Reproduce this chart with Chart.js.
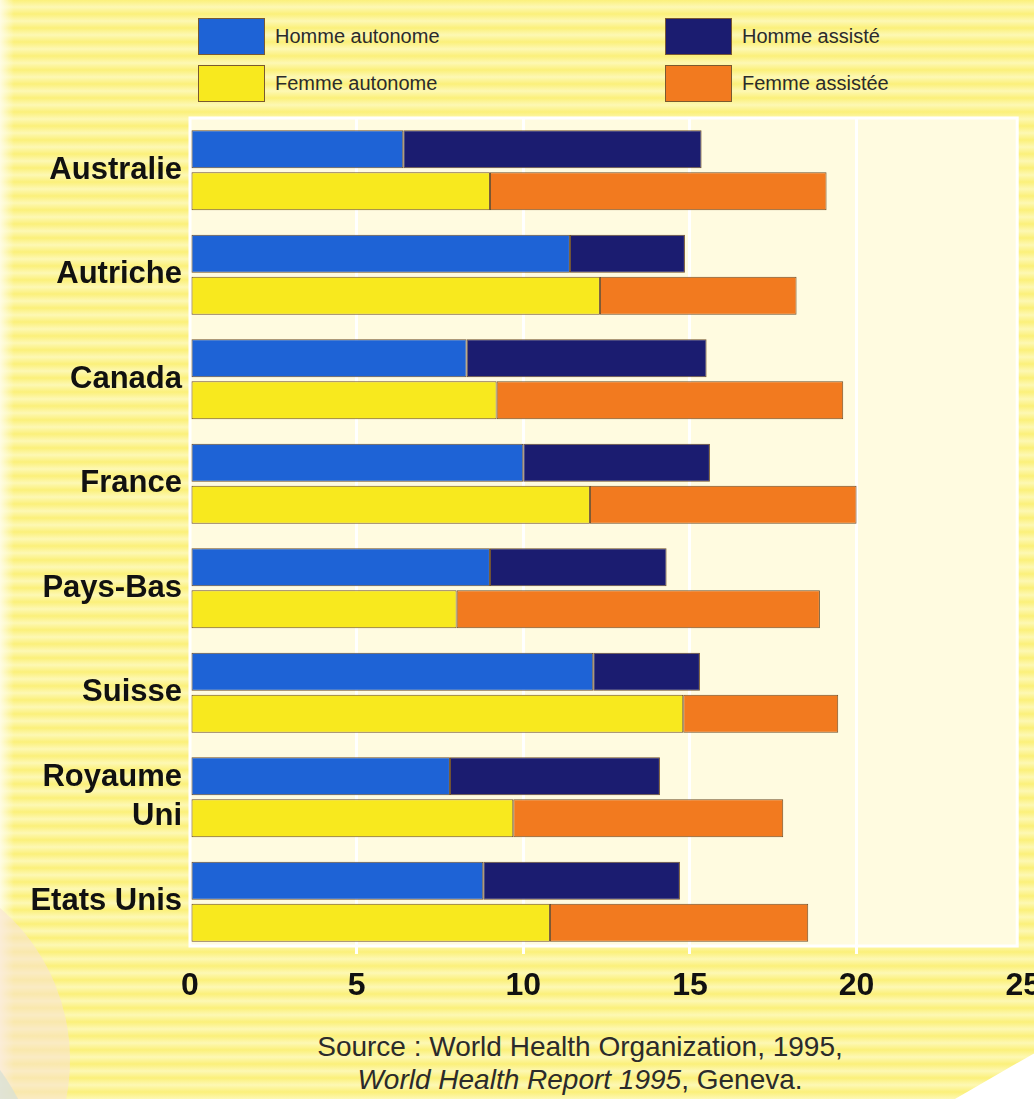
<!DOCTYPE html>
<html>
<head>
<meta charset="utf-8">
<script src="https://cdn.jsdelivr.net/npm/chart.js@4.4.1/dist/chart.umd.min.js"></script>
<style>
  html, body { margin: 0; padding: 0; }
  body {
    width: 1034px; height: 1099px; overflow: hidden;
    background: repeating-linear-gradient(180deg, #fbf07a 0px, #fdf8b4 7px, #fbf07a 14px);
    font-family: "Liberation Sans", Arial, sans-serif;
  }
  #wrap { position: relative; width: 1034px; height: 1099px; overflow: hidden; }
  .deco { position: absolute; pointer-events: none; }
  #deco-left { left: 0; top: 0; width: 14px; height: 1099px; background: linear-gradient(90deg, rgba(255,253,235,0.9), rgba(255,253,235,0)); }
  #deco-pink { left: -330px; top: 860px; width: 400px; height: 400px; border-radius: 50%; background: rgba(248, 226, 206, 0.6); }
  #deco-grey { left: -360px; top: 990px; width: 400px; height: 400px; border-radius: 50%; background: rgba(216, 224, 212, 0.75); }
  #deco-white { right: -40px; bottom: -60px; width: 110px; height: 90px; transform: rotate(-30deg); background: #ffffff; }
  #chart-box { position: absolute; left: 0; top: 0; width: 1054px; height: 1010px; }
  .legend-item { position: absolute; display: flex; align-items: center; }
  .legend-box { width: 67px; height: 37px; box-sizing: border-box; border: 1px solid #7a5a30; margin-right: 10px; }
  .legend-text { font-size: 20px; color: #2b2b2b; }
  #source {
    position: absolute; left: 0; width: 1160px; top: 1030px;
    text-align: center; font-size: 28px; line-height: 33px; color: #2b2b2b;
  }
</style>
</head>
<body>
<div id="wrap">
  <div class="deco" id="deco-left"></div>
  <div class="deco" id="deco-pink"></div>
  <div class="deco" id="deco-grey"></div>
  <div class="deco" id="deco-white"></div>
  <div id="legend"></div>
  <div id="chart-box"><canvas id="chart"></canvas></div>
  <div id="source">Source : World Health Organization, 1995,<br><i>World Health Report 1995</i>, Geneva.</div>
</div>
<script>
// Espérance de vie à 65 ans (années), autonome / assistée
const pays = ['Australie', 'Autriche', 'Canada', 'France', 'Pays-Bas', 'Suisse', ['Royaume', 'Uni'], 'Etats Unis'];

const hommeAutonome = [6.4, 11.4, 8.3, 10.0, 9.0, 12.1, 7.8, 8.8];
const hommeAssiste  = [8.95, 3.45, 7.2, 5.6, 5.3, 3.2, 6.3, 5.9];
const femmeAutonome = [9.0, 12.3, 9.2, 12.0, 8.0, 14.8, 9.7, 10.8];
const femmeAssistee = [10.1, 5.9, 10.4, 8.0, 10.9, 4.65, 8.1, 7.75];

const xTicks = [0, 5, 10, 15, 20, 25];

const COLORS = {
    hommeAutonome: '#1e63d6',
    hommeAssiste: '#1b1c70',
    femmeAutonome: '#f8e91e',
    femmeAssistee: '#f27a1f'
};

const datasets = [
    { label: 'Homme autonome', data: hommeAutonome, stack: 'homme', backgroundColor: COLORS.hommeAutonome },
    { label: 'Homme assisté', data: hommeAssiste, stack: 'homme', backgroundColor: COLORS.hommeAssiste },
    { label: 'Femme autonome', data: femmeAutonome, stack: 'femme', backgroundColor: COLORS.femmeAutonome },
    { label: 'Femme assistée', data: femmeAssistee, stack: 'femme', backgroundColor: COLORS.femmeAssistee }
].map(d => ({
    ...d,
    borderColor: '#6e4e2a',
    borderWidth: 1,
    borderSkipped: false,
    categoryPercentage: 0.8,
    barPercentage: 0.91
}));

// Légende en deux colonnes (comme l'original)
const legendPos = [
    { left: 198, top: 18 },  // Homme autonome
    { left: 665, top: 18 },  // Homme assisté
    { left: 198, top: 65 },  // Femme autonome
    { left: 665, top: 65 }   // Femme assistée
];
const legendEl = document.getElementById('legend');
datasets.forEach((ds, i) => {
    const item = document.createElement('div');
    item.className = 'legend-item';
    item.style.left = legendPos[i].left + 'px';
    item.style.top = legendPos[i].top + 'px';
    const box = document.createElement('div');
    box.className = 'legend-box';
    box.style.background = ds.backgroundColor;
    const txt = document.createElement('span');
    txt.className = 'legend-text';
    txt.innerText = ds.label;
    item.appendChild(box);
    item.appendChild(txt);
    legendEl.appendChild(item);
});

// Fond crème de la zone de tracé
const plotBackground = {
    id: 'plotBackground',
    beforeDraw(chart) {
        const { ctx, chartArea: a } = chart;
        ctx.save();
        ctx.fillStyle = '#fffbe0';
        ctx.fillRect(a.left, a.top, a.right - a.left - 6, a.bottom - a.top - 8);
        ctx.strokeStyle = '#ffffff';
        ctx.lineWidth = 3;
        ctx.strokeRect(a.left, a.top, a.right - a.left - 6, a.bottom - a.top - 8);
        ctx.restore();
    }
};

new Chart(document.getElementById('chart'), {
    type: 'bar',
    data: { labels: pays, datasets },
    plugins: [plotBackground],
    options: {
        indexAxis: 'y',
        responsive: true,
        maintainAspectRatio: false,
        animation: false,
        layout: { padding: { top: 118, right: 10, left: 0, bottom: 0 } },
        plugins: {
            legend: { display: false },
            tooltip: { enabled: false }
        },
        scales: {
            x: {
                stacked: true,
                min: 0,
                max: 25,
                afterBuildTicks: (scale) => { scale.ticks = xTicks.map(v => ({ value: v })); },
                afterFit: (scale) => { scale.height = 56; },
                border: { display: false },
                grid: {
                    drawTicks: false,
                    lineWidth: 3,
                    color: (ctx) => (ctx.tick && (ctx.tick.value === 0 || ctx.tick.value === 25)) ? 'rgba(0,0,0,0)' : '#ffffff'
                },
                ticks: {
                    padding: 13,
                    color: '#111111',
                    font: { family: '"Liberation Sans", Arial, sans-serif', size: 32, weight: 'bold' }
                }
            },
            y: {
                stacked: true,
                afterFit: (scale) => { scale.width = 190; },
                border: { display: false },
                grid: { display: false, drawTicks: false },
                ticks: {
                    padding: 8,
                    color: '#111111',
                    font: { family: '"Liberation Sans", Arial, sans-serif', size: 31, weight: 'bold', lineHeight: 1.25 }
                }
            }
        }
    }
});
</script>
</body>
</html>
